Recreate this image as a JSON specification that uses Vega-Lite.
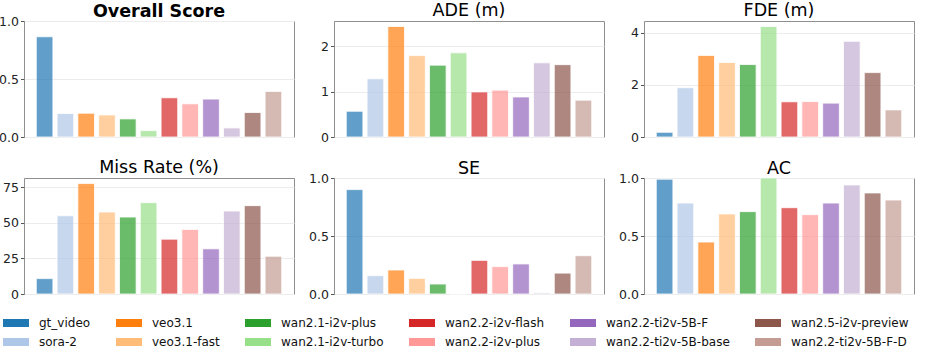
{
  "$schema": "https://vega.github.io/schema/vega-lite/v6.json",
  "padding": {"left": -2, "top": 1, "right": 0, "bottom": 0},
  "background": "white",
  "datasets": {
    "scores": [
      {"model": "gt_video", "metric": "Overall Score", "value": 0.864},
      {"model": "sora-2", "metric": "Overall Score", "value": 0.202},
      {"model": "veo3.1", "metric": "Overall Score", "value": 0.205},
      {"model": "veo3.1-fast", "metric": "Overall Score", "value": 0.19},
      {"model": "wan2.1-i2v-plus", "metric": "Overall Score", "value": 0.156},
      {"model": "wan2.1-i2v-turbo", "metric": "Overall Score", "value": 0.055},
      {"model": "wan2.2-i2v-flash", "metric": "Overall Score", "value": 0.338},
      {"model": "wan2.2-i2v-plus", "metric": "Overall Score", "value": 0.286},
      {"model": "wan2.2-ti2v-5B-F", "metric": "Overall Score", "value": 0.327},
      {"model": "wan2.2-ti2v-5B-base", "metric": "Overall Score", "value": 0.078},
      {"model": "wan2.5-i2v-preview", "metric": "Overall Score", "value": 0.211},
      {"model": "wan2.2-ti2v-5B-F-D", "metric": "Overall Score", "value": 0.393},
      {"model": "gt_video", "metric": "ADE (m)", "value": 0.566},
      {"model": "sora-2", "metric": "ADE (m)", "value": 1.28},
      {"model": "veo3.1", "metric": "ADE (m)", "value": 2.43},
      {"model": "veo3.1-fast", "metric": "ADE (m)", "value": 1.79},
      {"model": "wan2.1-i2v-plus", "metric": "ADE (m)", "value": 1.58},
      {"model": "wan2.1-i2v-turbo", "metric": "ADE (m)", "value": 1.85},
      {"model": "wan2.2-i2v-flash", "metric": "ADE (m)", "value": 0.99},
      {"model": "wan2.2-i2v-plus", "metric": "ADE (m)", "value": 1.03},
      {"model": "wan2.2-ti2v-5B-F", "metric": "ADE (m)", "value": 0.88},
      {"model": "wan2.2-ti2v-5B-base", "metric": "ADE (m)", "value": 1.63},
      {"model": "wan2.5-i2v-preview", "metric": "ADE (m)", "value": 1.59},
      {"model": "wan2.2-ti2v-5B-F-D", "metric": "ADE (m)", "value": 0.81},
      {"model": "gt_video", "metric": "FDE (m)", "value": 0.18},
      {"model": "sora-2", "metric": "FDE (m)", "value": 1.89},
      {"model": "veo3.1", "metric": "FDE (m)", "value": 3.13},
      {"model": "veo3.1-fast", "metric": "FDE (m)", "value": 2.86},
      {"model": "wan2.1-i2v-plus", "metric": "FDE (m)", "value": 2.78},
      {"model": "wan2.1-i2v-turbo", "metric": "FDE (m)", "value": 4.24},
      {"model": "wan2.2-i2v-flash", "metric": "FDE (m)", "value": 1.35},
      {"model": "wan2.2-i2v-plus", "metric": "FDE (m)", "value": 1.36},
      {"model": "wan2.2-ti2v-5B-F", "metric": "FDE (m)", "value": 1.3},
      {"model": "wan2.2-ti2v-5B-base", "metric": "FDE (m)", "value": 3.67},
      {"model": "wan2.5-i2v-preview", "metric": "FDE (m)", "value": 2.47},
      {"model": "wan2.2-ti2v-5B-F-D", "metric": "FDE (m)", "value": 1.04},
      {"model": "gt_video", "metric": "Miss Rate (%)", "value": 10.8},
      {"model": "sora-2", "metric": "Miss Rate (%)", "value": 54.9},
      {"model": "veo3.1", "metric": "Miss Rate (%)", "value": 77.5},
      {"model": "veo3.1-fast", "metric": "Miss Rate (%)", "value": 57.5},
      {"model": "wan2.1-i2v-plus", "metric": "Miss Rate (%)", "value": 54.0},
      {"model": "wan2.1-i2v-turbo", "metric": "Miss Rate (%)", "value": 64.1},
      {"model": "wan2.2-i2v-flash", "metric": "Miss Rate (%)", "value": 38.5},
      {"model": "wan2.2-i2v-plus", "metric": "Miss Rate (%)", "value": 45.3},
      {"model": "wan2.2-ti2v-5B-F", "metric": "Miss Rate (%)", "value": 31.7},
      {"model": "wan2.2-ti2v-5B-base", "metric": "Miss Rate (%)", "value": 58.2},
      {"model": "wan2.5-i2v-preview", "metric": "Miss Rate (%)", "value": 62.0},
      {"model": "wan2.2-ti2v-5B-F-D", "metric": "Miss Rate (%)", "value": 26.5},
      {"model": "gt_video", "metric": "SE", "value": 0.9},
      {"model": "sora-2", "metric": "SE", "value": 0.158},
      {"model": "veo3.1", "metric": "SE", "value": 0.207},
      {"model": "veo3.1-fast", "metric": "SE", "value": 0.135},
      {"model": "wan2.1-i2v-plus", "metric": "SE", "value": 0.086},
      {"model": "wan2.1-i2v-turbo", "metric": "SE", "value": 0.0},
      {"model": "wan2.2-i2v-flash", "metric": "SE", "value": 0.29},
      {"model": "wan2.2-i2v-plus", "metric": "SE", "value": 0.236},
      {"model": "wan2.2-ti2v-5B-F", "metric": "SE", "value": 0.259},
      {"model": "wan2.2-ti2v-5B-base", "metric": "SE", "value": 0.009},
      {"model": "wan2.5-i2v-preview", "metric": "SE", "value": 0.18},
      {"model": "wan2.2-ti2v-5B-F-D", "metric": "SE", "value": 0.33},
      {"model": "gt_video", "metric": "AC", "value": 0.99},
      {"model": "sora-2", "metric": "AC", "value": 0.784},
      {"model": "veo3.1", "metric": "AC", "value": 0.448},
      {"model": "veo3.1-fast", "metric": "AC", "value": 0.69},
      {"model": "wan2.1-i2v-plus", "metric": "AC", "value": 0.71},
      {"model": "wan2.1-i2v-turbo", "metric": "AC", "value": 1.0},
      {"model": "wan2.2-i2v-flash", "metric": "AC", "value": 0.744},
      {"model": "wan2.2-i2v-plus", "metric": "AC", "value": 0.684},
      {"model": "wan2.2-ti2v-5B-F", "metric": "AC", "value": 0.784},
      {"model": "wan2.2-ti2v-5B-base", "metric": "AC", "value": 0.94},
      {"model": "wan2.5-i2v-preview", "metric": "AC", "value": 0.871},
      {"model": "wan2.2-ti2v-5B-F-D", "metric": "AC", "value": 0.81}
    ]
  },
  "data": {"name": "scores"},
  "columns": 3,
  "spacing": {"row": 41, "column": 40},
  "bounds": "flush",
  "concat": [
    {
      "width": 270, "height": 116,
      "title": {"text": "Overall Score", "fontWeight": "bold", "offset": -5},
      "transform": [{"filter": "datum.metric === 'Overall Score'"}],
      "mark": {"type": "bar", "opacity": 0.7, "stroke": "white", "strokeWidth": 0.8},
      "encoding": {
        "x": {"field": "model", "type": "nominal", "axis": null, "sort": ["gt_video", "sora-2", "veo3.1", "veo3.1-fast", "wan2.1-i2v-plus", "wan2.1-i2v-turbo", "wan2.2-i2v-flash", "wan2.2-i2v-plus", "wan2.2-ti2v-5B-F", "wan2.2-ti2v-5B-base", "wan2.5-i2v-preview", "wan2.2-ti2v-5B-F-D"], "scale": {"paddingInner": 0.2, "paddingOuter": 0.59}},
        "y": {"field": "value", "type": "quantitative", "scale": {"domain": [0, 1]}, "axis": {"values": [0, 0.5, 1], "format": ".1f", "title": null}},
        "color": {"field": "model", "type": "nominal", "title": null,
          "scale": {"domain": ["gt_video", "veo3.1", "wan2.1-i2v-plus", "wan2.2-i2v-flash", "wan2.2-ti2v-5B-F", "wan2.5-i2v-preview", "sora-2", "veo3.1-fast", "wan2.1-i2v-turbo", "wan2.2-i2v-plus", "wan2.2-ti2v-5B-base", "wan2.2-ti2v-5B-F-D"],
            "range": ["#1f77b4", "#ff7f0e", "#2ca02c", "#d62728", "#9467bd", "#8c564b", "#aec7e8", "#ffbb78", "#98df8a", "#ff9896", "#c5b0d5", "#c49c94"]},
          "legend": {"orient": "none", "legendX": -21, "legendY": 289, "columns": 6, "direction": "horizontal", "gridAlign": "each", "columnPadding": 25, "rowPadding": -8, "labelOffset": 10, "symbolType": "M-1,-0.3077L1,-0.3077L1,0.3077L-1,0.3077Z", "symbolSize": 676, "symbolOpacity": 1, "symbolStrokeWidth": 0, "labelFontSize": 12, "labelFont": "DejaVu Sans", "labelColor": "#111"}}
      }
    },
    {
      "width": 270, "height": 116,
      "title": {"text": "ADE (m)", "offset": 2},
      "transform": [{"filter": "datum.metric === 'ADE (m)'"}],
      "mark": {"type": "bar", "opacity": 0.7, "stroke": "white", "strokeWidth": 0.8},
      "encoding": {
        "x": {"field": "model", "type": "nominal", "axis": null, "sort": ["gt_video", "sora-2", "veo3.1", "veo3.1-fast", "wan2.1-i2v-plus", "wan2.1-i2v-turbo", "wan2.2-i2v-flash", "wan2.2-i2v-plus", "wan2.2-ti2v-5B-F", "wan2.2-ti2v-5B-base", "wan2.5-i2v-preview", "wan2.2-ti2v-5B-F-D"], "scale": {"paddingInner": 0.2, "paddingOuter": 0.59}},
        "y": {"field": "value", "type": "quantitative", "scale": {"domain": [0, 2.55]}, "axis": {"values": [0, 1, 2], "format": "d", "title": null}},
        "color": {"field": "model", "type": "nominal"}
      }
    },
    {
      "width": 270, "height": 116,
      "title": {"text": "FDE (m)", "offset": 2},
      "transform": [{"filter": "datum.metric === 'FDE (m)'"}],
      "mark": {"type": "bar", "opacity": 0.7, "stroke": "white", "strokeWidth": 0.8},
      "encoding": {
        "x": {"field": "model", "type": "nominal", "axis": null, "sort": ["gt_video", "sora-2", "veo3.1", "veo3.1-fast", "wan2.1-i2v-plus", "wan2.1-i2v-turbo", "wan2.2-i2v-flash", "wan2.2-i2v-plus", "wan2.2-ti2v-5B-F", "wan2.2-ti2v-5B-base", "wan2.5-i2v-preview", "wan2.2-ti2v-5B-F-D"], "scale": {"paddingInner": 0.2, "paddingOuter": 0.59}},
        "y": {"field": "value", "type": "quantitative", "scale": {"domain": [0, 4.45]}, "axis": {"values": [0, 2, 4], "format": "d", "title": null}},
        "color": {"field": "model", "type": "nominal"}
      }
    },
    {
      "width": 270, "height": 116,
      "title": {"text": "Miss Rate (%)", "offset": 2},
      "transform": [{"filter": "datum.metric === 'Miss Rate (%)'"}],
      "mark": {"type": "bar", "opacity": 0.7, "stroke": "white", "strokeWidth": 0.8},
      "encoding": {
        "x": {"field": "model", "type": "nominal", "axis": null, "sort": ["gt_video", "sora-2", "veo3.1", "veo3.1-fast", "wan2.1-i2v-plus", "wan2.1-i2v-turbo", "wan2.2-i2v-flash", "wan2.2-i2v-plus", "wan2.2-ti2v-5B-F", "wan2.2-ti2v-5B-base", "wan2.5-i2v-preview", "wan2.2-ti2v-5B-F-D"], "scale": {"paddingInner": 0.2, "paddingOuter": 0.59}},
        "y": {"field": "value", "type": "quantitative", "scale": {"domain": [0, 81.4]}, "axis": {"values": [0, 25, 50, 75], "format": "d", "title": null}},
        "color": {"field": "model", "type": "nominal"}
      }
    },
    {
      "width": 270, "height": 116,
      "title": {"text": "SE", "offset": -5},
      "transform": [{"filter": "datum.metric === 'SE'"}],
      "mark": {"type": "bar", "opacity": 0.7, "stroke": "white", "strokeWidth": 0.8},
      "encoding": {
        "x": {"field": "model", "type": "nominal", "axis": null, "sort": ["gt_video", "sora-2", "veo3.1", "veo3.1-fast", "wan2.1-i2v-plus", "wan2.1-i2v-turbo", "wan2.2-i2v-flash", "wan2.2-i2v-plus", "wan2.2-ti2v-5B-F", "wan2.2-ti2v-5B-base", "wan2.5-i2v-preview", "wan2.2-ti2v-5B-F-D"], "scale": {"paddingInner": 0.2, "paddingOuter": 0.59}},
        "y": {"field": "value", "type": "quantitative", "scale": {"domain": [0, 1]}, "axis": {"values": [0, 0.5, 1], "format": ".1f", "title": null}},
        "color": {"field": "model", "type": "nominal"}
      }
    },
    {
      "width": 270, "height": 116,
      "title": {"text": "AC", "offset": -5},
      "transform": [{"filter": "datum.metric === 'AC'"}],
      "mark": {"type": "bar", "opacity": 0.7, "stroke": "white", "strokeWidth": 0.8},
      "encoding": {
        "x": {"field": "model", "type": "nominal", "axis": null, "sort": ["gt_video", "sora-2", "veo3.1", "veo3.1-fast", "wan2.1-i2v-plus", "wan2.1-i2v-turbo", "wan2.2-i2v-flash", "wan2.2-i2v-plus", "wan2.2-ti2v-5B-F", "wan2.2-ti2v-5B-base", "wan2.5-i2v-preview", "wan2.2-ti2v-5B-F-D"], "scale": {"paddingInner": 0.2, "paddingOuter": 0.59}},
        "y": {"field": "value", "type": "quantitative", "scale": {"domain": [0, 1]}, "axis": {"values": [0, 0.5, 1], "format": ".1f", "title": null}},
        "color": {"field": "model", "type": "nominal"}
      }
    }
  ],
  "config": {
    "font": "DejaVu Sans",
    "view": {"stroke": "#8f8f8f", "strokeWidth": 1},
    "title": {"font": "DejaVu Sans", "fontSize": 17.5, "fontWeight": "normal", "color": "#000"},
    "axis": {"domain": false, "tickSize": 3.5, "tickColor": "#555", "labelPadding": 2, "labelFont": "DejaVu Sans", "labelFontSize": 12.5, "labelColor": "#222", "gridColor": "#ececec", "gridWidth": 1}
  }
}
